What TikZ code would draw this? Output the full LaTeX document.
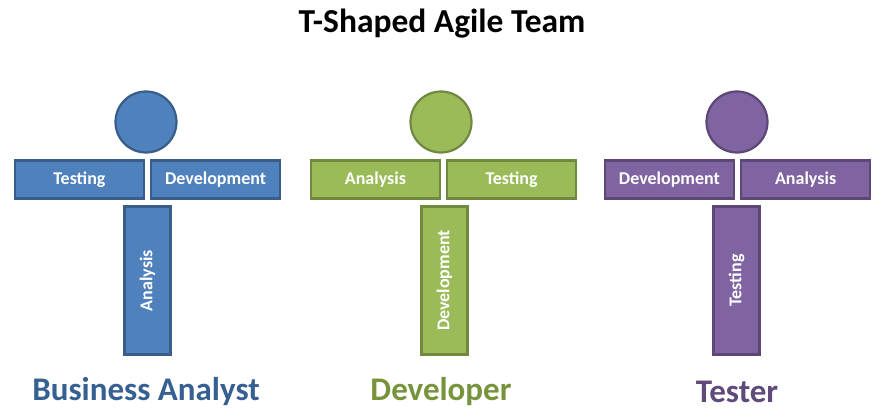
\documentclass[tikz,border=0pt]{standalone}
\usepackage{fontspec}
\setmainfont{Carlito}
\usetikzlibrary{positioning}

\definecolor{bafill}{HTML}{4F81BD}
\definecolor{badraw}{HTML}{385D8A}
\definecolor{batext}{HTML}{376092}
\definecolor{devfill}{HTML}{9BBB59}
\definecolor{devdraw}{HTML}{71893F}
\definecolor{devtext}{HTML}{77933C}
\definecolor{tstfill}{HTML}{8064A2}
\definecolor{tstdraw}{HTML}{5C4776}
\definecolor{tsttext}{HTML}{604A7B}

\begin{document}
\begin{tikzpicture}[
    x=1pt, y=-1pt,
    font=\bfseries,
    head/.style={circle, line width=2.2pt, minimum size=61pt, inner sep=0pt},
    arm/.style={rectangle, line width=2.2pt, minimum width=129pt, minimum height=38pt, inner sep=0pt, text=white, font=\fontsize{18}{20}\selectfont\bfseries},
    leg/.style={rectangle, rotate=90, line width=2.2pt, minimum width=148pt, minimum height=46pt, inner sep=0pt, text=white, font=\fontsize{18}{20}\selectfont\bfseries},
    role/.style={font=\fontsize{33}{38}\selectfont\bfseries},
    ba/.style={fill=bafill, draw=badraw},
    dev/.style={fill=devfill, draw=devdraw},
    tst/.style={fill=tstfill, draw=tstdraw}
]
\useasboundingbox (0,0) rectangle (884,417);

% Title
\node[font=\fontsize{33.5}{36}\selectfont\bfseries] (title) at (442,24) {T-Shaped Agile Team};

% Business analyst
\node[head, ba] (baHead) at (146,122) {};
\node[arm, ba, anchor=north east] (baLeft) at (145,159.5) {Testing};
\node[arm, ba, right=5pt of baLeft] (baRight) {Development};
\node[leg, ba] (baLeg) at (147.5,280.5) {Analysis};
\node[role, text=batext] (baName) at (146,392) {Business Analyst};

% Developer
\node[head, dev] (devHead) at (441,122) {};
\node[arm, dev, anchor=north east] (devLeft) at (441,159.5) {Analysis};
\node[arm, dev, right=5pt of devLeft] (devRight) {Testing};
\node[leg, dev] (devLeg) at (444.5,280.5) {Development};
\node[role, text=devtext] (devName) at (441,392) {Developer};

% Tester
\node[head, tst] (tstHead) at (737,122) {};
\node[arm, tst, anchor=north east] (tstLeft) at (735,159.5) {Development};
\node[arm, tst, right=5pt of tstLeft] (tstRight) {Analysis};
\node[leg, tst] (tstLeg) at (736.5,280.5) {Testing};
\node[role, text=tsttext] (tstName) at (737,392) {Tester};

\end{tikzpicture}
\end{document}
